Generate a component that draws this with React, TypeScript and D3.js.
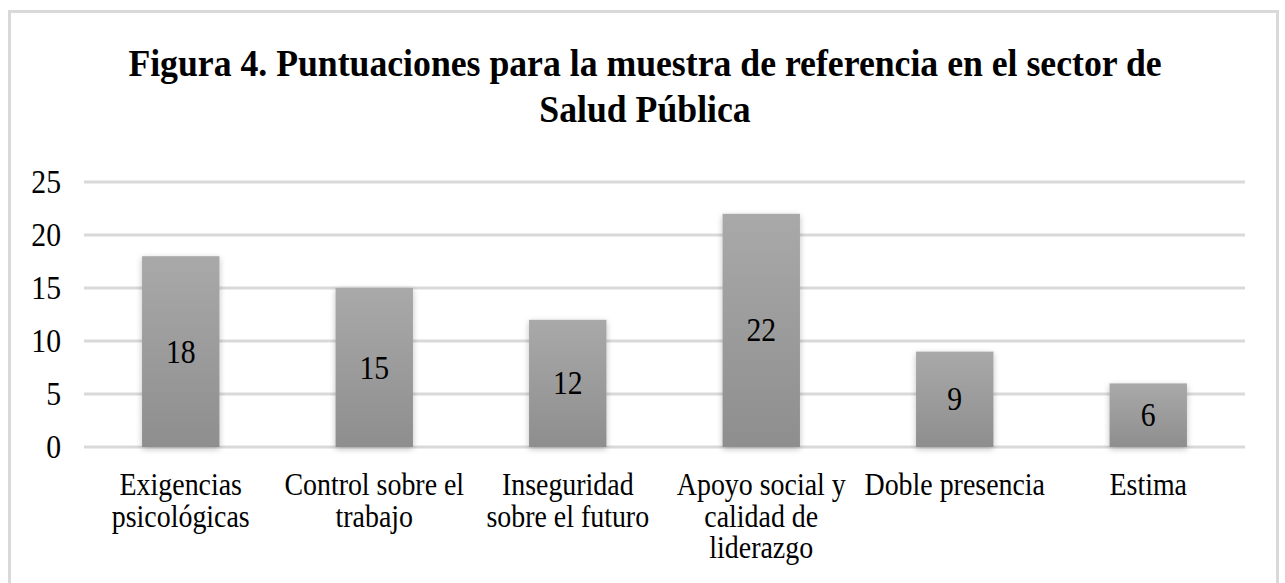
import React from "react";
import * as d3 from "d3";

const categories: string[][] = [
  ["Exigencias", "psicológicas"],
  ["Control sobre el", "trabajo"],
  ["Inseguridad", "sobre el futuro"],
  ["Apoyo social y", "calidad de", "liderazgo"],
  ["Doble presencia"],
  ["Estima"],
];
const values: number[] = [18, 15, 12, 22, 9, 6];
const yTicks: number[] = [0, 5, 10, 15, 20, 25];
const titleLines: string[] = [
  "Figura 4. Puntuaciones para la muestra de referencia en el sector de",
  "Salud Pública",
];

const W = 1285;
const H = 583;
const FONT = "'Times New Roman', 'Liberation Serif', 'Nimbus Roman', serif";

export default function App() {
  const x = d3
    .scaleBand<number>()
    .domain(values.map((_, i) => i))
    .range([84, 1245])
    .paddingInner(0.6)
    .paddingOuter(0.3);
  const band = d3.scaleBand<number>().domain(values.map((_, i) => i)).range([84, 1245]);
  const y = d3.scaleLinear().domain([0, 25]).range([447, 182]);

  const txt = (
    key: string | number,
    tx: number,
    ty: number,
    s: string,
    size: number,
    anchor: "start" | "middle" | "end",
    sx: number,
    weight: string | number = "normal"
  ) => (
    <text
      key={key}
      transform={`translate(${tx},${ty}) scale(${sx},1)`}
      style={{ fontFamily: FONT, fontSize: size + "px", fontWeight: weight as any }}
      textAnchor={anchor}
      fill="#000"
    >
      {s}
    </text>
  );

  return (
    <svg
      width={W}
      height={H}
      style={{ position: "absolute", left: 0, top: 0, background: "#fff" }}
    >
      <defs>
        <linearGradient id="barGrad" x1="0" y1="0" x2="0" y2="1">
          <stop offset="0" stopColor="#a9a9a9" />
          <stop offset="1" stopColor="#8e8e8e" />
        </linearGradient>
        <filter id="shadow" x="-30%" y="-10%" width="160%" height="125%">
          <feGaussianBlur in="SourceAlpha" stdDeviation="3" />
          <feOffset dx="0" dy="2" result="b" />
          <feComponentTransfer>
            <feFuncA type="linear" slope="0.25" />
          </feComponentTransfer>
          <feMerge>
            <feMergeNode />
            <feMergeNode in="SourceGraphic" />
          </feMerge>
        </filter>
      </defs>
      <rect x={9.5} y={11.5} width={1268} height={600} fill="#fff" stroke="#d9d9d9" strokeWidth={3} />
      {titleLines.map((t, i) => txt("t" + i, 645, 76 + i * 46, t, 38, "middle", 0.94, "bold"))}
      {yTicks.map((t) => (
        <line key={"g" + t} x1={84} x2={1245} y1={y(t)} y2={y(t)} stroke="#d9d9d9" strokeWidth={3} />
      ))}
      {yTicks.map((t) => txt("yl" + t, 61, y(t) + 11, String(t), 33, "end", 0.9))}
      {values.map((v, i) => (
        <rect
          key={"b" + i}
          x={x(i)!}
          y={y(v)}
          width={x.bandwidth()}
          height={y(0) - y(v)}
          fill="url(#barGrad)"
          filter="url(#shadow)"
        />
      ))}
      {values.map((v, i) =>
        txt("v" + i, x(i)! + x.bandwidth() / 2, (y(v) + y(0)) / 2 + 11, String(v), 33, "middle", 0.9)
      )}
      {categories.map((lines, i) =>
        lines.map((l, j) =>
          txt("c" + i + "_" + j, band(i)! + band.bandwidth() / 2, 495 + j * 31.7, l, 31, "middle", 0.9)
        )
      )}
    </svg>
  );
}
